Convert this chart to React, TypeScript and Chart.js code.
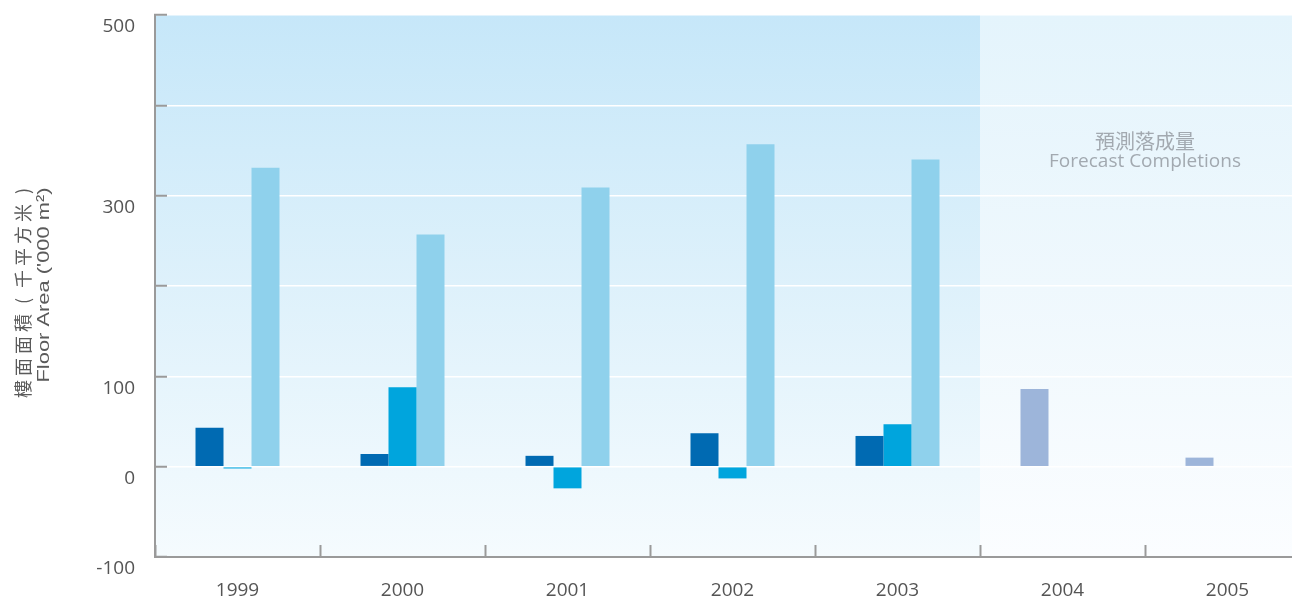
import React, { useEffect, useRef } from "react";
import { Chart, registerables } from "chart.js";

Chart.register(...registerables);

// ---- Data ----
const years = ["1999", "2000", "2001", "2002", "2003", "2004", "2005"];
const seriesDark = [43, 14, 12, 37, 34, null, null];
const seriesMid = [-2, 88, -24, -13, 47, null, null];
const seriesLight = [331, 257, 309, 357, 340, null, null];
const seriesForecast = [null, null, null, null, null, 86, 10];
const yLabelled = [500, 300, 100, 0, -100];
const yTitleZh = ["樓", "面", "面", "積", "(", "千", "平", "方", "米", ")"];
const yTitleEn = "Floor Area ('000 m²)";
const forecastZh = "預測落成量";
const forecastEn = "Forecast Completions";

const bgPlugin = {
  id: "bgPlugin",
  beforeDraw(chart: any) {
    const { ctx, chartArea: a, scales } = chart;
    const x = scales.x;
    const b = (x.getPixelForValue(4) + x.getPixelForValue(5)) / 2;
    ctx.save();
    const g = ctx.createLinearGradient(0, a.top, 0, a.bottom);
    g.addColorStop(0, "#c6e7f9");
    g.addColorStop(0.5, "#def1fb");
    g.addColorStop(1, "#f5fbfe");
    ctx.fillStyle = g;
    ctx.fillRect(a.left, a.top, b - a.left, a.bottom - a.top);
    const g2 = ctx.createLinearGradient(0, a.top, 0, a.bottom);
    g2.addColorStop(0, "#e4f4fc");
    g2.addColorStop(0.5, "#eff8fd");
    g2.addColorStop(1, "#fbfdff");
    ctx.fillStyle = g2;
    ctx.fillRect(b, a.top, a.right - b, a.bottom - a.top);
    ctx.restore();
  },
};

const textPlugin = {
  id: "textPlugin",
  afterDraw(chart: any) {
    const { ctx, scales } = chart;
    const x = scales.x;
    ctx.save();
    // forecast label
    const cx = (x.getPixelForValue(5) + x.getPixelForValue(6)) / 2;
    ctx.fillStyle = "#a2a9b0";
    ctx.textAlign = "center";
    ctx.textBaseline = "middle";
    ctx.font = '20px "Noto Sans CJK TC"';
    ctx.fillText(forecastZh, cx, 133);
    ctx.font = '19px "Open Sans"';
    ctx.fillText(forecastEn, cx, 154);
    ctx.restore();

    // y-axis title (rotated)
    ctx.save();
    ctx.fillStyle = "#5a5a5a";
    ctx.textAlign = "center";
    ctx.textBaseline = "middle";
    ctx.font = '18px "Noto Sans CJK TC"';
    ctx.translate(15, 0);
    ctx.rotate(-Math.PI / 2);
    yTitleZh.forEach((c, i) => {
      const yy = 381 - i * 22;
      ctx.fillText(c, -yy, 0);
    });
    ctx.restore();

    ctx.save();
    ctx.fillStyle = "#5a5a5a";
    ctx.textAlign = "center";
    ctx.textBaseline = "middle";
    ctx.font = '17px "Liberation Sans"';
    const w = ctx.measureText(yTitleEn).width;
    const L = 195;
    ctx.translate(36, 277);
    ctx.rotate(-Math.PI / 2);
    ctx.scale(L / w, 1);
    ctx.fillText(yTitleEn, 0, 0);
    ctx.restore();
  },
};

export default function App() {
  const ref = useRef<HTMLCanvasElement>(null);
  useEffect(() => {
    if (!ref.current) return;
    const chart = new Chart(ref.current, {
      type: "bar",
      data: {
        labels: years,
        datasets: [
          { data: seriesDark, backgroundColor: "#006ab2", stack: "a" },
          { data: seriesMid, backgroundColor: "#00a5dd", stack: "b" },
          { data: seriesLight, backgroundColor: "#8fd1ec", stack: "c" },
          { data: seriesForecast, backgroundColor: "#9db5da", stack: "a" },
        ],
      },
      options: {
        responsive: false,
        animation: false,
        layout: { padding: { top: 7, right: 8, left: 0, bottom: 0 } },
        datasets: { bar: { categoryPercentage: 0.509, barPercentage: 1, borderWidth: 0 } },
        plugins: { legend: { display: false }, tooltip: { enabled: false }, title: { display: false } },
        scales: {
          x: {
            grid: {
              offset: true,
              drawOnChartArea: false,
              drawTicks: true,
              tickLength: -12,
              tickColor: "#9a9a9a",
              tickWidth: 2,
            },
            border: { display: true, color: "#9a9a9a", width: 2 },
            ticks: { color: "#555", font: { family: "Open Sans", size: 19 }, padding: 34 },
            afterFit: (s: any) => {
              s.height = 48;
              s.paddingLeft = 0;
              s.paddingRight = 0;
            },
          },
          y: {
            min: -100,
            max: 500,
            stacked: false,
            grid: {
              color: "#ffffff",
              lineWidth: 1.5,
              drawTicks: true,
              tickLength: -12,
              tickColor: "#9a9a9a",
              tickWidth: 2,
            },
            border: { display: true, color: "#9a9a9a", width: 2 },
            ticks: {
              stepSize: 100,
              color: "#555",
              font: { family: "Open Sans", size: 19 },
              padding: 32,
              labelOffset: 12,
              callback: (v: any) => (yLabelled.includes(Number(v)) ? String(v) : ""),
            },
            afterFit: (s: any) => {
              s.width = 147;
              s.paddingTop = 0;
              s.paddingBottom = 0;
            },
          },
        },
      },
      plugins: [bgPlugin, textPlugin],
    });
    return () => chart.destroy();
  }, []);
  return (
    <div style={{ width: 1284, height: 597, overflow: "hidden", marginBottom: -8 }}>
      <canvas ref={ref} width={1310} height={597} style={{ display: "block" }} />
    </div>
  );
}
